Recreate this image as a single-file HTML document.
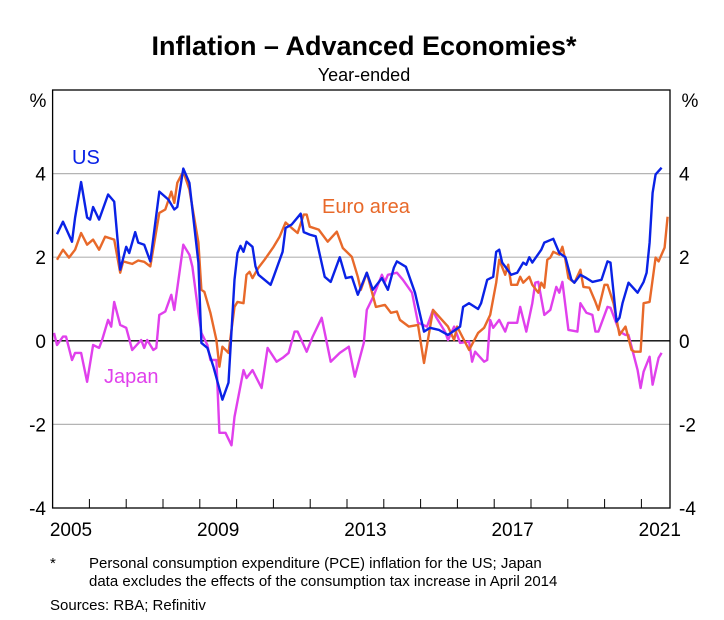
<!DOCTYPE html>
<html><head><meta charset="utf-8"><style>
body{margin:0;background:#fff;width:724px;height:620px;overflow:hidden;font-family:"Liberation Sans",Arial,sans-serif}
svg{display:block}
</style></head><body>
<svg id="chart" width="724" height="620" xmlns="http://www.w3.org/2000/svg" font-family="Liberation Sans, Arial, sans-serif">
<text x="364" y="55" text-anchor="middle" font-size="27" font-weight="bold">Inflation – Advanced Economies*</text>
<text x="364" y="81" text-anchor="middle" font-size="18">Year-ended</text>
<text x="38" y="107" text-anchor="middle" font-size="19">%</text>
<text x="690" y="107" text-anchor="middle" font-size="19">%</text>
<g id="grid"></g>
<g id="series"></g>
<rect x="52.6" y="90" width="617.4" height="418" fill="none" stroke="#000" stroke-width="1.3"/>
<g id="axes"></g>
<text x="72" y="164" font-size="20" fill="#0a22e6">US</text>
<text x="322" y="213" font-size="20" fill="#e8692a">Euro area</text>
<text x="104" y="383" font-size="20" fill="#e040ec">Japan</text>
<text x="50" y="568" font-size="15">*</text>
<text x="89" y="568" font-size="15">Personal consumption expenditure (PCE) inflation for the US; Japan</text>
<text x="89" y="586" font-size="15">data excludes the effects of the consumption tax increase in April 2014</text>
<text x="50" y="610" font-size="15">Sources: RBA; Refinitiv</text>
</svg>
<script>
const yTicks=[6,4,2,0,-2,-4];
const yTickLabels=["","4","2","0","-2","-4"];
const yearLabels=["2005","2009","2013","2017","2021"];
const usDates=["2004-06","2004-08","2004-11","2004-12","2005-02","2005-04","2005-05","2005-06","2005-08","2005-11","2006-01","2006-03","2006-05","2006-06","2006-08","2006-09","2006-11","2007-01","2007-04","2007-07","2007-09","2007-10","2007-12","2008-02","2008-05","2008-06","2008-08","2008-10","2009-01","2009-03","2009-05","2009-06","2009-07","2009-08","2009-09","2009-11","2009-12","2010-01","2010-05","2010-06","2010-09","2010-10","2010-12","2011-03","2011-04","2011-06","2011-08","2011-11","2012-01","2012-04","2012-06","2012-08","2012-10","2013-01","2013-03","2013-06","2013-08","2013-10","2013-11","2014-02","2014-05","2014-08","2014-10","2015-01","2015-04","2015-08","2015-09","2015-11","2016-02","2016-03","2016-05","2016-07","2016-08","2016-09","2016-10","2017-01","2017-03","2017-05","2017-06","2017-07","2017-08","2017-11","2017-12","2018-03","2018-05","2018-07","2018-09","2018-10","2018-12","2019-02","2019-04","2019-07","2019-09","2019-10","2019-12","2020-01","2020-02","2020-04","2020-07","2020-09","2020-10","2020-11","2020-12","2021-01","2021-03"];
const usValues=[2.55,2.85,2.37,2.95,3.8,2.95,2.9,3.2,2.9,3.5,3.33,1.7,2.25,2.1,2.6,2.35,2.3,1.9,3.57,3.38,3.14,3.2,4.12,3.78,1.87,-0.05,-0.17,-0.62,-1.41,-1.0,1.46,2.1,2.27,2.13,2.37,2.25,1.78,1.58,1.34,1.53,2.13,2.7,2.78,3.04,2.6,2.54,2.5,1.53,1.41,2.0,1.5,1.53,1.1,1.63,1.22,1.5,1.22,1.75,1.9,1.77,1.15,0.22,0.31,0.26,0.14,0.34,0.81,0.9,0.76,0.9,1.46,1.53,2.13,2.18,1.87,1.58,1.63,1.87,1.82,2.0,1.87,2.18,2.35,2.44,2.1,2.0,1.46,1.39,1.58,1.5,1.41,1.46,1.9,1.87,0.46,0.55,0.9,1.39,1.15,1.41,1.63,2.35,3.54,3.98,4.14];
const euroDates=["2004-06","2004-08","2004-10","2004-12","2005-02","2005-04","2005-06","2005-08","2005-10","2006-01","2006-03","2006-04","2006-07","2006-09","2006-11","2007-01","2007-04","2007-06","2007-08","2007-09","2007-10","2007-12","2008-02","2008-05","2008-06","2008-07","2008-09","2008-11","2008-12","2009-01","2009-03","2009-05","2009-06","2009-08","2009-09","2009-10","2009-11","2010-01","2010-03","2010-06","2010-08","2010-10","2010-12","2011-02","2011-04","2011-05","2011-06","2011-09","2011-12","2012-03","2012-05","2012-08","2012-10","2012-11","2013-01","2013-04","2013-07","2013-09","2013-11","2013-12","2014-03","2014-06","2014-08","2014-11","2015-02","2015-04","2015-06","2015-07","2015-11","2016-02","2016-04","2016-06","2016-08","2016-09","2016-11","2016-12","2017-01","2017-03","2017-04","2017-05","2017-07","2017-08","2017-10","2017-11","2017-12","2018-01","2018-02","2018-03","2018-05","2018-06","2018-07","2018-08","2018-10","2018-12","2019-01","2019-03","2019-05","2019-06","2019-08","2019-09","2019-11","2020-01","2020-03","2020-05","2020-06","2020-08","2020-09","2020-11","2021-01","2021-02","2021-04","2021-05"];
const euroValues=[1.94,2.18,1.99,2.18,2.58,2.3,2.42,2.18,2.49,2.42,1.63,1.9,1.84,1.92,1.89,1.78,3.06,3.14,3.57,3.3,3.78,4.05,3.62,2.35,1.22,1.17,0.67,0.02,-0.62,-0.14,-0.29,0.81,0.93,0.9,1.58,1.65,1.5,1.75,1.94,2.25,2.49,2.83,2.7,2.58,3.02,3.02,2.73,2.66,2.37,2.61,2.22,2.01,1.53,1.22,1.63,0.81,0.86,0.67,0.7,0.5,0.34,0.38,-0.53,0.74,0.5,0.34,0.02,0.34,-0.22,0.19,0.31,0.62,1.39,1.94,1.58,1.82,1.34,1.34,1.53,1.39,1.53,1.34,1.15,1.39,1.27,1.94,1.99,2.13,2.06,2.25,1.94,1.5,1.39,1.7,1.29,1.27,0.93,0.74,1.34,1.34,0.9,0.14,0.34,-0.22,-0.26,-0.26,0.9,0.93,1.99,1.9,2.23,2.97];
const japanDates=["2004-05","2004-06","2004-08","2004-09","2004-11","2004-12","2005-02","2005-04","2005-06","2005-08","2005-09","2005-11","2005-12","2006-01","2006-03","2006-05","2006-07","2006-10","2006-11","2006-12","2007-02","2007-03","2007-04","2007-06","2007-08","2007-09","2007-12","2008-02","2008-03","2008-05","2008-06","2008-08","2008-09","2008-11","2008-12","2009-02","2009-04","2009-05","2009-08","2009-09","2009-11","2010-02","2010-04","2010-07","2010-09","2010-11","2011-01","2011-02","2011-05","2011-07","2011-10","2012-01","2012-04","2012-07","2012-09","2012-12","2013-01","2013-03","2013-06","2013-07","2013-08","2013-11","2014-01","2014-04","2014-06","2014-09","2014-11","2014-12","2015-03","2015-04","2015-06","2015-08","2015-11","2015-12","2016-01","2016-04","2016-05","2016-06","2016-07","2016-09","2016-11","2016-12","2017-03","2017-04","2017-06","2017-08","2017-09","2017-10","2017-12","2018-02","2018-04","2018-05","2018-06","2018-08","2018-11","2018-12","2019-02","2019-04","2019-05","2019-06","2019-09","2019-10","2020-01","2020-03","2020-04","2020-07","2020-08","2020-09","2020-11","2020-12","2021-02","2021-03"];
const japanValues=[0.19,-0.1,0.1,0.1,-0.46,-0.29,-0.29,-0.98,-0.1,-0.17,0.02,0.5,0.34,0.93,0.38,0.31,-0.22,0.02,-0.17,0.02,-0.22,-0.17,0.62,0.7,1.1,0.74,2.3,2.06,1.77,0.67,0.19,-0.1,-0.46,-0.46,-2.2,-2.2,-2.5,-1.82,-0.7,-0.89,-0.7,-1.13,-0.17,-0.5,-0.41,-0.29,0.22,0.22,-0.26,0.1,0.55,-0.5,-0.29,-0.14,-0.86,-0.05,0.74,1.03,1.58,1.41,1.58,1.63,1.46,1.15,0.43,0.34,0.74,0.57,0.22,0.02,0.34,-0.05,-0.02,-0.5,-0.26,-0.5,-0.46,0.5,0.31,0.5,0.22,0.43,0.43,0.81,0.22,0.9,1.39,1.41,0.62,0.74,1.29,1.15,1.41,0.26,0.22,0.9,0.67,0.62,0.22,0.22,0.81,0.79,0.22,0.14,0.14,-0.7,-1.13,-0.74,-0.38,-1.05,-0.41,-0.29];

const NS="http://www.w3.org/2000/svg";
const PL=52.6,PR=670,PT=90,PB=508;
function y(v){return PB-(v+4)*(PB-PT)/10;}
function monthIndex(d){const p=d.split("-");return (+p[0]-2004)*12+(+p[1]-1);}
function x(d){return 54+(monthIndex(d)-4)*3.008;}
const yearPx=36.8;
const grid=document.getElementById("grid"),axes=document.getElementById("axes"),series=document.getElementById("series");
yTicks.forEach((v,i)=>{
  if(v===6||v===-4)return;
  const l=document.createElementNS(NS,"line");
  
  
  l.setAttribute("x1",PL);l.setAttribute("x2",PR);l.setAttribute("y1",y(v));l.setAttribute("y2",y(v));
  l.setAttribute("stroke",v===0?"#000":"#b4b4b4");l.setAttribute("stroke-width",v===0?1.3:1.2);
  grid.appendChild(l);
});
yTicks.forEach((v,i)=>{
  if(!yTickLabels[i])return;
  [[46,"end","left"],[679,"start","right"]].forEach(([xx,a,s])=>{
    const t=document.createElementNS(NS,"text");
    
    
    t.setAttribute("x",xx);t.setAttribute("y",y(v)+7);t.setAttribute("text-anchor",a);t.setAttribute("font-size","19");
    t.textContent=yTickLabels[i];axes.appendChild(t);
  });
});
for(let k=1;k<=17;k++){
  const xx=PL+k*yearPx; if(xx>=PR-1)break;
  const l=document.createElementNS(NS,"line");
  
  
  l.setAttribute("x1",xx);l.setAttribute("x2",xx);l.setAttribute("y1",PB);l.setAttribute("y2",PB-9);
  l.setAttribute("stroke","#000");l.setAttribute("stroke-width","1");axes.appendChild(l);
}
yearLabels.forEach(lbl=>{
  const t=document.createElementNS(NS,"text");
  
  
  t.setAttribute("x",PL+((+lbl-2005)+0.5)*yearPx);t.setAttribute("y",536);t.setAttribute("text-anchor","middle");t.setAttribute("font-size","19");
  t.textContent=lbl;axes.appendChild(t);
});
function line(dates,vals,color,name){
  const p=document.createElementNS(NS,"polyline");
  
  
  p.setAttribute("points",dates.map((d,i)=>x(d).toFixed(1)+","+y(vals[i]).toFixed(1)).join(" "));
  p.setAttribute("fill","none");p.setAttribute("stroke",color);p.setAttribute("stroke-width","2.4");p.setAttribute("stroke-linejoin","round");
  series.appendChild(p);
}
line(japanDates,japanValues,"#e040ec","japan-line");
line(euroDates,euroValues,"#e8692a","euro-area-line");
line(usDates,usValues,"#0a22e6","us-line");
</script>
</body></html>
